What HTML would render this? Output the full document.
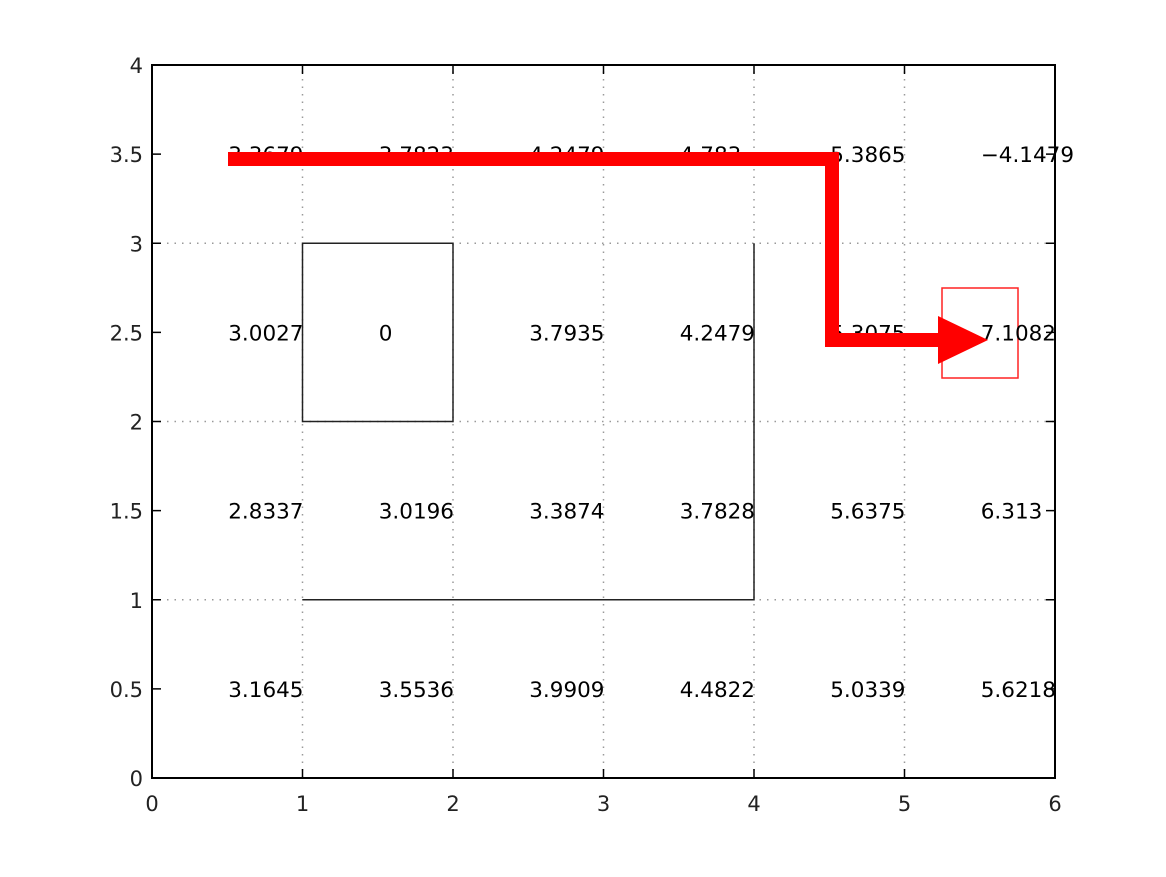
<!DOCTYPE html>
<html><head><meta charset="utf-8"><style>
html,body{margin:0;padding:0;background:#fff;}
svg{display:block;font-family:"DejaVu Sans","Liberation Sans",sans-serif;}
</style></head><body>
<svg id="chart" width="1166" height="877" viewBox="0 0 1166 877">
<g id="grid"></g>
<g id="shapes"></g>
<g id="labels"></g>
<g id="axes"></g>
<g id="overlay"></g>
</svg>
<script>
const xTicks=[0,1,2,3,4,5,6];
const yTicks=[0,0.5,1,1.5,2,2.5,3,3.5,4];
const yTickLabels=["0","0.5","1","1.5","2","2.5","3","3.5","4"];
const rowY=[0.5,1.5,2.5,3.5];
const colX=[0.5,1.5,2.5,3.5,4.5,5.5];
const row0=["3.1645","3.5536","3.9909","4.4822","5.0339","5.6218"];
const row1=["2.8337","3.0196","3.3874","3.7828","5.6375","6.313"];
const row2=["3.0027","0","3.7935","4.2479","5.3075","7.1082"];
const row3=["3.3679","3.7823","4.2479","4.783","5.3865","\u22124.1479"];
const rows=[row0,row1,row2,row3];
const X=v=>152+v*150.5, Y=v=>778-v*178.25;
const NS="http://www.w3.org/2000/svg";
function mk(t,a,p){const e=document.createElementNS(NS,t);for(const k in a)e.setAttribute(k,a[k]);p.appendChild(e);return e;}
const grid=document.getElementById('grid'),axes=document.getElementById('axes'),labels=document.getElementById('labels'),shapes=document.getElementById('shapes'),ov=document.getElementById('overlay');
xTicks.slice(1,-1).forEach(v=>{const l=mk('line',{x1:X(v),x2:X(v),y1:Y(0),y2:Y(4),stroke:'#999','stroke-width':1.5,'stroke-dasharray':'1.5,6'},grid);

});
[1,2,3].forEach(v=>{const l=mk('line',{y1:Y(v),y2:Y(v),x1:X(0),x2:X(6),stroke:'#999','stroke-width':1.5,'stroke-dasharray':'1.5,6'},grid);

});
const sq=mk('rect',{x:X(1),y:Y(3),width:X(2)-X(1),height:Y(2)-Y(3),fill:'none',stroke:'#222','stroke-width':1.5},shapes);


const pl=mk('polyline',{points:`${X(4)},${Y(3)} ${X(4)},${Y(1)} ${X(1)},${Y(1)}`,fill:'none',stroke:'#222','stroke-width':1.5},shapes);


const rr=mk('rect',{x:942,y:288,width:76,height:90,fill:'none',stroke:'#f22','stroke-width':1.5},shapes);


rows.forEach((r,i)=>r.forEach((s,j)=>{const t=mk('text',{x:X(colX[j])+1,y:Y(rowY[i])+8,'font-size':21.5,fill:'#000'},labels);t.textContent=s;

}));
const fr=mk('rect',{x:X(0),y:Y(4),width:X(6)-X(0),height:Y(0)-Y(4),fill:'none',stroke:'#000','stroke-width':2},axes);


xTicks.forEach(v=>{mk('line',{x1:X(v),x2:X(v),y1:Y(0),y2:Y(0)-9,stroke:'#000','stroke-width':1.5},axes);mk('line',{x1:X(v),x2:X(v),y1:Y(4),y2:Y(4)+9,stroke:'#000','stroke-width':1.5},axes);
const t=mk('text',{x:X(v),y:811,'font-size':21,'text-anchor':'middle',fill:'#222'},axes);t.textContent=String(v);

});
yTicks.forEach((v,i)=>{mk('line',{x1:X(0),x2:X(0)+9,y1:Y(v),y2:Y(v),stroke:'#000','stroke-width':1.5},axes);mk('line',{x1:X(6),x2:X(6)-9,y1:Y(v),y2:Y(v),stroke:'#000','stroke-width':1.5},axes);
const t=mk('text',{x:143,y:Y(v)+8,'font-size':21,'text-anchor':'end',fill:'#222'},axes);t.textContent=yTickLabels[i];

});
const ap=mk('polyline',{points:'228,159 832,159 832,340 942,340',fill:'none',stroke:'#f00','stroke-width':14,'stroke-linejoin':'miter'},ov);


const ah=mk('polygon',{points:'938,316 988,340 938,364',fill:'#f00'},ov);


</script>
</body></html>
